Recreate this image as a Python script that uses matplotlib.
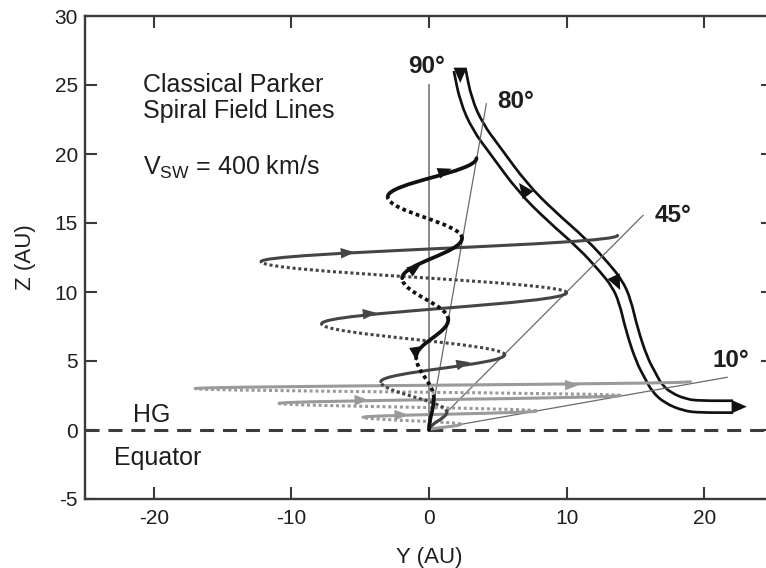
import numpy as np
import matplotlib
matplotlib.use('Agg')
import matplotlib.pyplot as plt
from matplotlib.path import Path
from matplotlib.patches import PathPatch, FancyArrowPatch, ArrowStyle

plt.rcParams['font.family'] = ['Liberation Sans', 'DejaVu Sans']
plt.rcParams['mathtext.fontset'] = 'custom'
plt.rcParams['mathtext.rm'] = 'Liberation Sans'
plt.rcParams['mathtext.it'] = 'Liberation Sans:italic'
plt.rcParams['mathtext.bf'] = 'Liberation Sans:bold'
plt.rcParams['axes.unicode_minus'] = False

# ---------------- data ----------------
x_ticks = [-20, -10, 0, 10, 20]
y_ticks = [-5, 0, 5, 10, 15, 20, 25, 30]

ray_angles = [90, 80, 45, 10]          # heliolatitude of each cone (deg)
ray_lengths = [25.0, 24.0, 22.0, 22.0]  # AU
ray_labels = ['90°', '80°', '45°', '10°']

# turning points (Y, Z) of projected Parker spiral field lines
lat80_y = [0.0, 0.35, -0.93, 1.40, -1.95, 2.40, -3.00, 3.45]
lat80_z = [0.0, 2.30, 5.30, 8.00, 11.00, 13.90, 16.90, 19.70]
lat45_y = [0.0, 1.30, -3.50, 5.50, -7.80, 10.00, -12.20, 13.70]
lat45_z = [0.0, 1.30, 3.50, 5.45, 7.70, 9.95, 12.20, 14.10]
lat10_y = [0.0, 2.30, -4.80, 7.80, -10.90, 13.90, -17.00, 19.00]
lat10_z = [0.0, 0.42, 0.92, 1.38, 1.93, 2.50, 3.00, 3.50]

# arrows on the field lines (centre, direction)
arr80_y = [1.26, -0.92, -0.95]
arr80_z = [18.80, 11.80, 5.40]
arr80_dy = [1.0, 1.0, 0.15]
arr80_dz = [0.35, 0.7, -1.0]
arr45_y = [-5.8, -4.2, 2.6]
arr45_z = [12.85, 8.45, 4.83]
arr45_dy = [1.0, 1.0, 1.0]
arr45_dz = [0.07, 0.10, 0.20]
arr10_y = [10.5, -4.8, -1.9]
arr10_z = [3.26, 2.17, 1.09]
arr10_dy = [1.0, 1.0, 1.0]
arr10_dz = [0.01, 0.02, 0.02]

# wide ribbon (centre line) and its arrows
ribbon_y = [2.23, 2.67, 3.54, 4.78, 6.81, 8.78, 11.18, 12.78, 13.65, 14.23,
            14.74, 15.47, 16.05, 16.56, 17.36, 18.60, 19.67, 22.10]
ribbon_z = [26.10, 23.91, 21.96, 20.29, 17.54, 15.58, 13.48, 11.74, 10.65, 9.42,
            7.25, 5.07, 3.99, 3.04, 2.32, 1.81, 1.69, 1.69]
rarr_y = [2.27, 6.81, 13.70, 22.65]
rarr_z = [25.60, 17.54, 10.55, 1.69]
rarr_dy = [0.0, -2.03, 0.58, 1.0]
rarr_dz = [-1.0, 2.75, -1.23, 0.0]

# ---------------- figure ----------------
fig = plt.figure(figsize=(7.66, 5.68), dpi=100)
ax = fig.add_axes([85 / 766, 69 / 568, 688 / 766, 483 / 568])
ax.set_xlim(-25, 25)
ax.set_ylim(-5, 30)

spine_c = '#3a3a3a'
for s in ax.spines.values():
    s.set_linewidth(1.7)
    s.set_color(spine_c)
ax.set_xticks(x_ticks)
ax.set_yticks(y_ticks)
ax.tick_params(direction='in', length=8.6, width=1.5, color=spine_c,
               top=True, right=True, labelsize=15, labelcolor='#1e1e1e')
ax.tick_params(axis='x', pad=7)
ax.tick_params(axis='y', pad=5)
ax.set_xlabel('Y (AU)', fontsize=16, color='#1e1e1e')
ax.set_ylabel('Z (AU)', fontsize=16, color='#1e1e1e')
ax.xaxis.set_label_coords(0.5, -0.122)
ax.xaxis.label.set_va('center')
ax.yaxis.set_label_coords(-0.087, 0.5)
ax.yaxis.label.set_va('center')

# equator
ax.axhline(0, color='#3c3c3c', lw=2.2, dashes=(4.6, 2.9), zorder=1)

# radial lines
for ang, L in zip(ray_angles, ray_lengths):
    t = np.deg2rad(ang)
    if ang == 90:
        ax.plot([0, L * np.cos(t)], [0, L * np.sin(t)], color='#8a8a8a', lw=1.4, zorder=3)
    else:
        ax.plot([0, L * np.cos(t)], [0, L * np.sin(t)], color='#6a6a6a', lw=0.9, zorder=3)

# ribbon (smooth quadratic path through centre points)
def smooth_path(ys, zs):
    pts = np.column_stack([ys, zs])
    verts = [pts[0]]
    codes = [Path.MOVETO]
    mids = (pts[:-1] + pts[1:]) / 2
    verts.append(mids[0]); codes.append(Path.LINETO)
    for i in range(1, len(pts) - 1):
        verts += [pts[i], mids[i]]
        codes += [Path.CURVE3, Path.CURVE3]
    verts.append(pts[-1]); codes.append(Path.LINETO)
    return Path(verts, codes)

rp = smooth_path(ribbon_y, ribbon_z)
ax.add_patch(PathPatch(rp, fill=False, lw=10.5, edgecolor='#111111', capstyle='butt',
                       joinstyle='round', zorder=2))
ax.add_patch(PathPatch(rp, fill=False, lw=6.6, edgecolor='white', capstyle='butt',
                       joinstyle='round', zorder=2.1))

# field lines: solid (front) from left to right turning point, dotted (back) otherwise
def field_paths(ys, zs, a=0.364):
    sv, sc, dv, dc = [], [], [], []
    for i in range(len(ys) - 1):
        y0, z0, y1, z1 = ys[i], zs[i], ys[i + 1], zs[i + 1]
        dz = z1 - z0
        seg = [(y0, z0), (y0, z0 + a * dz), (y1, z1 - a * dz), (y1, z1)]
        codes = [Path.MOVETO, Path.CURVE4, Path.CURVE4, Path.CURVE4]
        if i % 2 == 0:
            sv += seg; sc += codes
        else:
            dv += seg; dc += codes
    return Path(sv, sc), Path(dv, dc)

styles = [
    (lat10_y, lat10_z, '#9a9a9a', 2.2, 4),
    (lat45_y, lat45_z, '#454545', 2.2, 5),
    (lat80_y, lat80_z, '#111111', 2.7, 6),
]
for ys, zs, c, lw, zo in styles:
    sp, dp = field_paths(ys, zs)
    ax.add_patch(PathPatch(sp, fill=False, lw=lw, edgecolor=c, capstyle='round', zorder=zo))
    ax.add_patch(PathPatch(dp, fill=False, lw=lw, edgecolor=c, linestyle=(0, (1.0, 0.9)),
                           capstyle='butt', zorder=zo))

def draw_arrows(ys, zs, dys, dzs, c, hl, hw, zo, half=0.4):
    for y, z, dy, dz in zip(ys, zs, dys, dzs):
        n = np.hypot(dy, dz)
        ux, uz = dy / n, dz / n
        a = FancyArrowPatch((y - half * ux, z - half * uz), (y + half * ux, z + half * uz),
                            arrowstyle=ArrowStyle('-|>', head_length=hl, head_width=hw),
                            mutation_scale=1, lw=0, color=c, shrinkA=0, shrinkB=0, zorder=zo)
        ax.add_patch(a)

draw_arrows(arr10_y, arr10_z, arr10_dy, arr10_dz, '#9a9a9a', 10, 3.8, 4.5)
draw_arrows(arr45_y, arr45_z, arr45_dy, arr45_dz, '#454545', 10, 3.8, 5.5)
draw_arrows(arr80_y, arr80_z, arr80_dy, arr80_dz, '#111111', 10, 4.0, 6.5)
draw_arrows(rarr_y, rarr_z, rarr_dy, rarr_dz, '#111111', 11, 4.8, 7, half=0.45)

# labels
tc = '#1e1e1e'
fs = 18
ray_lab_pos = [(-0.2, 25.9), (6.3, 23.3), (17.7, 15.1), (21.9, 4.6)]
for lab, (x, y) in zip(ray_labels, ray_lab_pos):
    ax.text(x, y, lab, fontsize=17.5, fontweight='bold', ha='center', va='baseline', color=tc, zorder=8)

ax.text(-20.8, 24.5, 'Classical Parker', fontsize=fs, ha='left', va='baseline', color=tc)
ax.text(-20.8, 22.6, 'Spiral Field Lines', fontsize=fs, ha='left', va='baseline', color=tc)
ax.text(-20.8, 18.5, r'V$_{\mathrm{SW}}$ = 400 km/s', fontsize=fs, ha='left', va='baseline', color=tc)
ax.text(-21.5, 0.6, 'HG', fontsize=fs, ha='left', va='baseline', color=tc)
ax.text(-22.9, -2.54, 'Equator', fontsize=fs, ha='left', va='baseline', color=tc)

fig.savefig('out.png', dpi=100)
